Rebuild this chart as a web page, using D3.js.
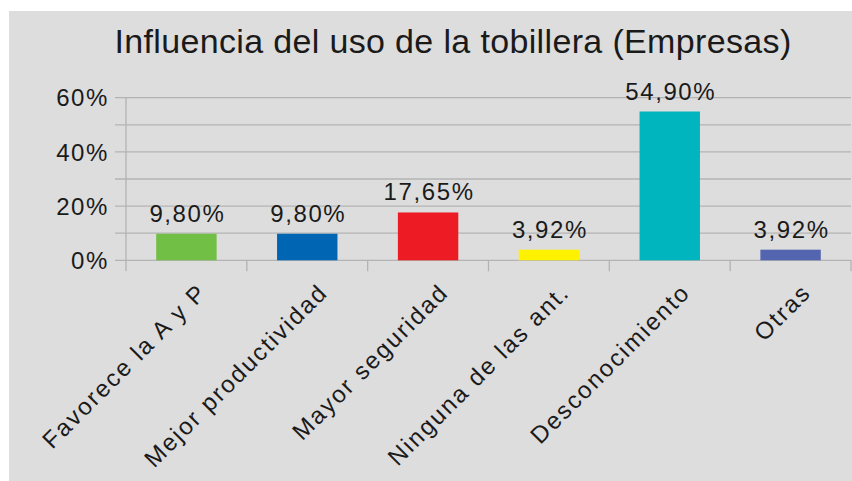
<!DOCTYPE html>
<html>
<head>
<meta charset="utf-8">
<script src="https://cdn.jsdelivr.net/npm/d3@7"></script>
<style>
  body { margin: 0; background: #fff; }
  text { font-family: "Liberation Sans", Arial, sans-serif; fill: #1a1a1a; }
</style>
</head>
<body>
<script>
  // chart data
  let categories = ["Favorece la A y P", "Mejor productividad", "Mayor seguridad",
                    "Ninguna de las ant.", "Desconocimiento", "Otras"];
  let values = [9.80, 9.80, 17.65, 3.92, 54.90, 3.92];
  let barColors = ["#71bf44", "#0066b3", "#ed1c24", "#fff200", "#00b5bd", "#5465b0"];
  let gridTicks = [0, 10, 20, 30, 40, 50, 60];
  let labelTicks = [0, 20, 40, 60];

  let svg = d3.select("body").append("svg")
    .attr("width", 852)
    .attr("height", 481);

  //gray chart background
  svg.append("rect")
    .attr("x", 9).attr("y", 11)
    .attr("width", 843).attr("height", 470)
    .attr("fill", "#dddddd");

  let plotLeft = 126, plotRight = 851, plotTop = 97.7, plotBottom = 260.3;

  let y = d3.scaleLinear().domain([0, 60]).range([plotBottom, plotTop]);
  let x = d3.scaleBand().domain(categories).range([plotLeft, plotRight]).padding(0);

  //gridlines (with tick stubs on the left)
  gridTicks.forEach(t =>
    svg.append("line")
      .attr("x1", plotLeft - 11).attr("x2", plotRight)
      .attr("y1", y(t)).attr("y2", y(t))
      .attr("stroke", "#b3b3b3").attr("stroke-width", 1.3)
  );

  //y axis line
  svg.append("line")
    .attr("x1", plotLeft).attr("x2", plotLeft)
    .attr("y1", plotTop).attr("y2", plotBottom + 11)
    .attr("stroke", "#b3b3b3").attr("stroke-width", 1.3);

  //category ticks
  categories.forEach(c => {
    let xx = x(c) + x.bandwidth();
    svg.append("line")
      .attr("x1", xx).attr("x2", xx)
      .attr("y1", plotBottom).attr("y2", plotBottom + 11)
      .attr("stroke", "#b3b3b3").attr("stroke-width", 1.3);
  });

  //y labels
  labelTicks.forEach(t =>
    svg.append("text")
      .attr("x", 109)
      .attr("y", y(t))
      .attr("dy", "0.36em")
      .attr("text-anchor", "end")
      .attr("font-size", 24)
      .attr("letter-spacing", 1.6)
      .text(t + "%")
  );

  //bars
  svg.selectAll(".bar")
    .data(values)
    .enter().append("rect")
    .attr("x", (d, i) => x(categories[i]) + x.bandwidth() / 4)
    .attr("width", x.bandwidth() / 2)
    .attr("y", d => y(d))
    .attr("height", d => plotBottom - y(d))
    .attr("fill", (d, i) => barColors[i]);

  //value labels
  svg.selectAll(".val")
    .data(values)
    .enter().append("text")
    .attr("x", (d, i) => x(categories[i]) + x.bandwidth() / 2 + 1)
    .attr("y", d => y(d) - 12)
    .attr("text-anchor", "middle")
    .attr("font-size", 24)
    .attr("letter-spacing", 1.6)
    .text(d => d.toFixed(2).replace(".", ",") + "%");

  //rotated category labels
  categories.forEach(c => {
    let cx = x(c) + x.bandwidth() / 2 + 10;
    svg.append("text")
      .attr("transform", "translate(" + cx + "," + 282 + ") rotate(-45)")
      .attr("text-anchor", "end")
      .attr("dy", "0.7em")
      .attr("font-size", 24)
      .attr("letter-spacing", 2)
      .text(c);
  });

  //title
  svg.append("text")
    .attr("x", 453)
    .attr("y", 53)
    .attr("text-anchor", "middle")
    .attr("font-size", 34)
    .attr("letter-spacing", 0.35)
    .text("Influencia del uso de la tobillera (Empresas)");
</script>
</body>
</html>
